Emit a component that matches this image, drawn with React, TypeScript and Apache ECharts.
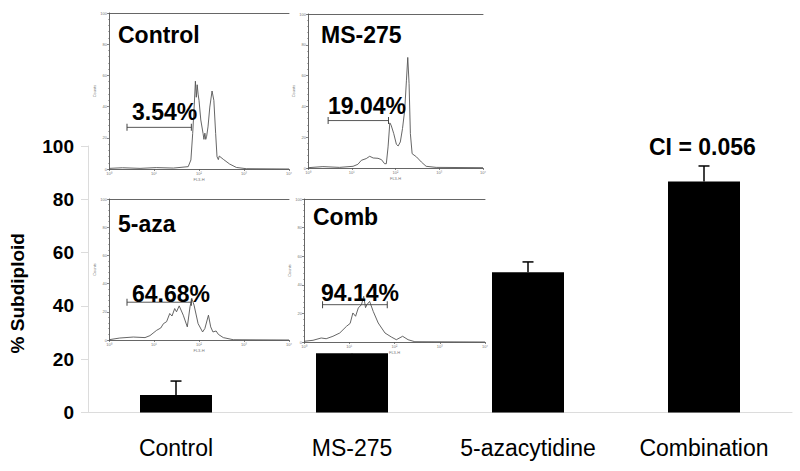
import React, { useEffect, useRef } from "react";
import * as echarts from "echarts";

const categories = ["Control", "MS-275", "5-azacytidine", "Combination"];
const subdiploid = [6.6, 22.2, 52.6, 86.7];
const errorTops = [11.8, 28, 56.5, 92.5];

const controlX = [0, 0.3, 0.69, 1.05, 1.43, 1.76, 1.82, 1.86, 1.9, 1.92, 1.94, 1.96, 1.98, 2.0, 2.04, 2.09, 2.11, 2.13, 2.15, 2.17, 2.2, 2.24, 2.29, 2.33, 2.37, 2.4, 2.43, 2.45, 2.54, 2.68, 2.83, 3.05, 4];
const controlY = [0.4, 0.8, 0.4, 0.9, 0.6, 1.5, 5.8, 22.8, 44.2, 56.3, 46, 54, 48, 44, 31.4, 22.8, 19, 23, 19, 21, 27, 39.7, 50, 44, 22.8, 7.9, 6, 8.3, 6.2, 3.2, 1, 0.2, 0];
const msX = [0, 0.34, 0.72, 1.03, 1.14, 1.22, 1.33, 1.41, 1.49, 1.6, 1.68, 1.75, 1.79, 1.83, 1.87, 1.9, 1.96, 2.02, 2.06, 2.11, 2.16, 2.21, 2.25, 2.28, 2.31, 2.34, 2.38, 2.48, 2.59, 2.7, 2.93, 4];
const msY = [0.2, 0.9, 0.4, 1.1, 2.4, 5, 6.1, 7.6, 6.5, 6.3, 5.4, 2.8, 2.8, 13.7, 29.3, 27.8, 22.3, 15.4, 14.3, 16.9, 25.6, 37.5, 57, 71.8, 54.9, 22.3, 9.3, 7.2, 3.9, 1.1, 0.4, 0.2];
const azaX = [0, 0.24, 0.54, 0.8, 0.91, 1.06, 1.15, 1.21, 1.28, 1.35, 1.4, 1.46, 1.5, 1.56, 1.65, 1.74, 1.8, 1.84, 1.89, 1.98, 2.08, 2.13, 2.21, 2.26, 2.31, 2.38, 2.43, 2.54, 2.76, 4];
const azaY = [0.2, 1.4, 2.1, 1.7, 3.1, 6.9, 8.5, 11.6, 13, 18.8, 17, 22.3, 20, 24.2, 17.6, 9.3, 23.5, 29.5, 24.7, 11.6, 5.7, 8.1, 17.6, 9.3, 5.7, 6.4, 4, 1.7, 0.2, 0];
const combX = [0, 0.2, 0.38, 0.49, 0.64, 0.79, 0.94, 1.02, 1.08, 1.14, 1.2, 1.27, 1.32, 1.36, 1.39, 1.45, 1.53, 1.64, 1.79, 1.93, 2.04, 2.18, 2.3, 2.45, 4];
const combY = [0.5, 1.2, 2.8, 2.3, 4, 6.3, 11, 13, 20.3, 18, 23.8, 26.1, 31.9, 24, 26.1, 28.4, 21.4, 13.3, 6.3, 3.5, 1.6, 4, 1.6, 0.2, 0];
const gateX = [[0.4, 1.83], [0.46, 1.84], [0.4, 1.83], [0.41, 1.84]];
const gateY = [26.7, 30.8, 26.8, 26.1];
const histX = [controlX, msX, azaX, combX];
const histY = [controlY, msY, azaY, combY];
const decadeLabels = ["10⁰", "10¹", "10²", "10³", "10⁴"];

const insetBoxes = [
  { l: 109, r: 289, t: 13, b: 169 },
  { l: 308, r: 483, t: 14, b: 168 },
  { l: 109, r: 289, t: 199, b: 340 },
  { l: 304, r: 485, t: 199, b: 342 },
];
const insetWhite = [
  { x: 98, y: 4, w: 198, h: 178 },
  { x: 297, y: 4, w: 195, h: 178 },
  { x: 98, y: 190, w: 198, h: 162 },
  { x: 297, y: 190, w: 193, h: 163 },
];
const insetTitles = [
  { t: "Control", x: 118, y: 35 },
  { t: "MS-275", x: 321, y: 35 },
  { t: "5-aza", x: 118, y: 224 },
  { t: "Comb", x: 313, y: 217 },
];
const insetPercents = [
  { t: "3.54%", x: 132, y: 112 },
  { t: "19.04%", x: 328, y: 106 },
  { t: "64.68%", x: 132, y: 294 },
  { t: "94.14%", x: 321, y: 293 },
];
const FONT = "'Liberation Sans', Arial, sans-serif";

export default function App() {
  const ref = useRef<HTMLDivElement>(null);
  useEffect(() => {
    const chart = echarts.init(ref.current!, undefined, { renderer: "svg" });
    const grids: any[] = [{ left: 88, right: 8, top: 146, height: 266.5, outerBoundsMode: "none" }];
    const xAxes: any[] = [
      {
        type: "category",
        data: categories,
        gridIndex: 0,
        axisLine: { lineStyle: { color: "#dcdcdc", width: 1 } },
        axisTick: { length: 8, lineStyle: { color: "#dcdcdc" } },
        axisLabel: { color: "#000", fontFamily: FONT, fontSize: 23, margin: 24, interval: 0 },
      },
    ];
    const yAxes: any[] = [
      {
        type: "value",
        gridIndex: 0,
        min: 0,
        max: 100,
        interval: 20,
        name: "% Subdiploid",
        nameLocation: "middle",
        nameGap: 61,
        nameTextStyle: { color: "#000", fontFamily: FONT, fontSize: 19, fontWeight: "bold", padding: [0, 28, 0, 0] },
        splitLine: { show: false },
        axisLine: { show: true, lineStyle: { color: "#dcdcdc", width: 1 } },
        axisTick: { show: true, length: 7, lineStyle: { color: "#dcdcdc" } },
        axisLabel: { color: "#000", fontFamily: FONT, fontSize: 19, fontWeight: "bold", margin: 14 },
      },
    ];
    const series: any[] = [
      {
        type: "bar",
        data: subdiploid,
        xAxisIndex: 0,
        yAxisIndex: 0,
        barWidth: 72,
        itemStyle: { color: "#000" },
        z: 2,
      },
      {
        type: "custom",
        xAxisIndex: 0,
        yAxisIndex: 0,
        data: errorTops.map((top, i) => [i, subdiploid[i], top]),
        z: 2,
        renderItem: (_p: any, api: any) => {
          const base = api.coord([api.value(0), api.value(1)]);
          const top = api.coord([api.value(0), api.value(2)]);
          const style = { stroke: "#000", lineWidth: 1.5, fill: "none" };
          return {
            type: "group",
            children: [
              { type: "line", shape: { x1: base[0], y1: base[1], x2: top[0], y2: top[1] }, style },
              { type: "line", shape: { x1: top[0] - 5.5, y1: top[1], x2: top[0] + 5.5, y2: top[1] }, style },
            ],
          };
        },
      },
    ];
    const insetLine = { lineStyle: { color: "#555", width: 0.9 } };
    insetBoxes.forEach((b, i) => {
      const g = grids.length;
      grids.push({ left: b.l, width: b.r - b.l, top: b.t, height: b.b - b.t, outerBoundsMode: "none" });
      const xi = xAxes.length;
      xAxes.push({
        type: "value",
        gridIndex: g,
        min: 0,
        max: 4,
        interval: 1,
        z: 5,
        name: "FL3-H",
        nameLocation: "middle",
        nameGap: 8,
        nameTextStyle: { color: "#777", fontSize: 4, fontFamily: FONT },
        splitLine: { show: false },
        axisLine: { ...insetLine, onZero: false },
        axisTick: { length: 2, lineStyle: { color: "#555", width: 0.7 } },
        minorTick: { show: true, length: 1, splitNumber: 9, lineStyle: { color: "#666", width: 0.5 } },
        axisLabel: { color: "#777", fontSize: 4, margin: 2, fontFamily: FONT, formatter: (v: number) => decadeLabels[v] },
      });
      xAxes.push({
        type: "value",
        gridIndex: g,
        position: "top",
        min: 0,
        max: 4,
        z: 5,
        splitLine: { show: false },
        axisLine: { ...insetLine, onZero: false },
        axisTick: { show: false },
        axisLabel: { show: false },
      });
      const yi = yAxes.length;
      yAxes.push({
        type: "value",
        gridIndex: g,
        min: 0,
        max: 100,
        interval: 20,
        z: 5,
        name: "Counts",
        nameLocation: "middle",
        nameGap: 9,
        nameTextStyle: { color: "#777", fontSize: 4, fontFamily: FONT },
        splitLine: { show: false },
        axisLine: { show: true, ...insetLine },
        axisTick: { show: true, length: 2, lineStyle: { color: "#555", width: 0.7 } },
        minorTick: { show: true, length: 1, splitNumber: 5, lineStyle: { color: "#666", width: 0.5 } },
        axisLabel: { color: "#777", fontSize: 4, margin: 2, fontFamily: FONT },
      });
      series.push({
        type: "line",
        xAxisIndex: xi,
        yAxisIndex: yi,
        z: 5,
        symbol: "none",
        lineStyle: { color: "#555", width: 0.9 },
        data: histX[i].map((x, k) => [x, histY[i][k]]),
      });
      series.push({
        type: "line",
        xAxisIndex: xi,
        yAxisIndex: yi,
        z: 6,
        symbol: "rect",
        symbolSize: [1, 7],
        itemStyle: { color: "#444" },
        lineStyle: { color: "#444", width: 0.9 },
        data: gateX[i].map((x) => [x, gateY[i]]),
      });
    });
    const textStyle = { fill: "#000", fontFamily: FONT, fontSize: 23, fontWeight: "bold", verticalAlign: "middle" };
    const graphics: any[] = [
      ...insetWhite.map((w) => ({
        type: "rect",
        z: 3,
        silent: true,
        shape: { x: w.x, y: w.y, width: w.w, height: w.h },
        style: { fill: "#fff" },
      })),
      ...[...insetTitles, ...insetPercents].map((l) => ({
        type: "text",
        z: 10,
        x: l.x,
        y: l.y,
        style: { ...textStyle, text: l.t },
      })),
      { type: "text", z: 10, x: 649, y: 147, style: { ...textStyle, text: "CI = 0.056" } },
    ];
    chart.setOption({
      animation: false,
      backgroundColor: "#fff",
      grid: grids,
      xAxis: xAxes,
      yAxis: yAxes,
      series,
      graphic: graphics,
    });
    return () => chart.dispose();
  }, []);
  return <div ref={ref} style={{ position: "absolute", left: 0, top: 0, width: 800, height: 471 }} />;
}
